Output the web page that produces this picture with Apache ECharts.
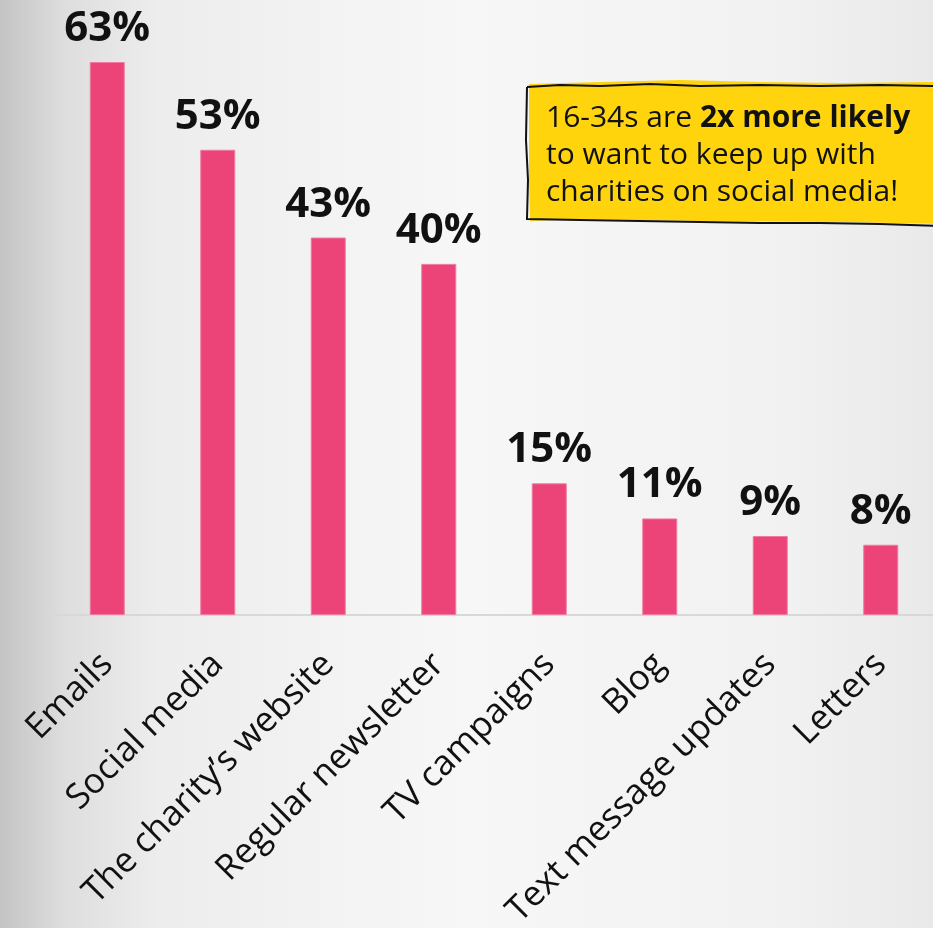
<!DOCTYPE html>
<html>
<head>
<meta charset="utf-8">
<style>
  html, body { margin: 0; padding: 0; }
  #chart { width: 933px; height: 928px; }
</style>
<script src="https://cdn.jsdelivr.net/npm/echarts@6/dist/echarts.min.js"></script>
</head>
<body>
<div id="chart"></div>
<script>
// How people want to keep up with charities (share of respondents, %)
const categories = ['Emails', 'Social media', 'The charity\u2019s website', 'Regular newsletter',
                    'TV campaigns', 'Blog', 'Text message updates', 'Letters'];
const shares = [63, 53, 43, 40, 15, 11, 9, 8];

const calloutLines = [
  ['16-34s are ', '2x more likely'],
  ['to want to keep up with', ''],
  ['charities on social media!', '']
];

const FONT = '"Open Sans", "Noto Sans", sans-serif';
const INK = '#111111';

const chart = echarts.init(document.getElementById('chart'), null, { renderer: 'canvas' });

// Hand-drawn looking outline for the yellow note
const boxOutline = [
  [527, 87], [560, 85], [600, 86], [650, 84], [700, 86], [760, 85], [820, 86], [880, 85], [940, 86],
  [940, 226], [880, 224], [820, 223], [760, 223], [700, 222], [640, 221], [580, 220], [527, 219],
  [528, 180], [526, 140], [527, 87]
];
const boxFill = [
  [529, 84], [600, 82], [680, 80], [760, 82], [840, 83], [940, 82],
  [940, 224], [840, 222], [700, 221], [580, 219], [530, 221], [529, 180], [529, 84]
];

const richText = calloutLines.map(([a, b]) => (b ? `{n|${a}}{b|${b}}` : `{n|${a}}`)).join('\n');

chart.setOption({
  backgroundColor: {
    type: 'linear', x: 0, y: 0, x2: 1, y2: 0,
    colorStops: [
      { offset: 0, color: '#c4c4c4' },
      { offset: 0.07, color: '#dedede' },
      { offset: 0.17, color: '#ededed' },
      { offset: 0.5, color: '#f7f7f7' },
      { offset: 0.85, color: '#f1f1f1' },
      { offset: 1, color: '#e9e9e9' }
    ]
  },
  animation: false,
  grid: { left: 52, width: 884, top: 62, bottom: 313, containLabel: false, outerBoundsMode: 'none' },
  xAxis: {
    type: 'category',
    data: categories,
    axisTick: { show: false },
    axisLine: { show: true, lineStyle: { color: '#d8d8d8', width: 2 } },
    axisLabel: {
      rotate: 45,
      interval: 0,
      margin: 44,
      color: INK,
      fontFamily: FONT,
      fontSize: 35
    }
  },
  yAxis: {
    type: 'value', min: 0, max: 63, show: false,
    splitLine: { show: false }
  },
  series: [{
    type: 'bar',
    data: shares,
    barWidth: 35,
    itemStyle: { color: '#ec4379', borderColor: '#f07aa0', borderWidth: 1 },
    label: {
      show: true,
      position: 'top',
      distance: 12,
      formatter: '{c}%',
      color: INK,
      fontFamily: FONT,
      fontWeight: 'bold',
      fontSize: 42
    }
  }],
  graphic: [
    {
      type: 'polygon', z: 10,
      shape: { points: boxFill },
      style: { fill: '#ffd40d' }
    },
    {
      type: 'polyline', z: 11,
      shape: { points: boxOutline },
      style: { stroke: '#111', lineWidth: 2, fill: null }
    },
    {
      type: 'text', z: 12, left: 546, top: 103,
      style: {
        text: richText,
        fontFamily: FONT,
        fill: INK,
        rich: {
          n: { fontSize: 30, lineHeight: 37, fontFamily: FONT, fill: INK },
          b: { fontSize: 30, lineHeight: 37, fontFamily: FONT, fill: INK, fontWeight: 'bold' }
        }
      }
    }
  ]
});
</script>
</body>
</html>
